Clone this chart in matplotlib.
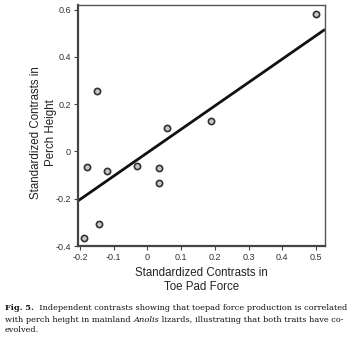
import matplotlib
matplotlib.use("Agg")
import matplotlib.pyplot as plt
import numpy as np

# Data
toe_pad_force = [-0.151, 0.057, 0.188, 0.500, -0.179, -0.119, -0.030, 0.033, 0.035, -0.143, -0.187]
perch_height = [0.255, 0.099, 0.128, 0.584, -0.065, -0.084, -0.060, -0.068, -0.133, -0.305, -0.366]
fit_slope = 0.99
fit_intercept = -0.005
x_ticks = [-0.2, -0.1, 0, 0.1, 0.2, 0.3, 0.4, 0.5]
x_ticklabels = ["-0.2", "-0.1", "0", "0.1", "0.2", "0.3", "0.4", "0.5"]
y_ticks = [-0.4, -0.2, 0, 0.2, 0.4, 0.6]
y_ticklabels = ["-0.4", "-0.2", "0", "0.2", "0.4", "0.6"]

W, H = 355, 339
fig = plt.figure(figsize=(W / 100, H / 100), dpi=100)
ax = fig.add_axes([78 / W, 1 - 246 / H, (325 - 78) / W, (246 - 5) / H])

xlim = (-0.206, 0.527)
ylim = (-0.4, 0.62)
ax.set_xlim(*xlim)
ax.set_ylim(*ylim)

xs = np.array(xlim)
ax.plot(xs, fit_slope * xs + fit_intercept, color="#111111", lw=2.0, solid_capstyle="butt", zorder=2)
ax.scatter(toe_pad_force, perch_height, s=20, facecolor="#c8c8c8", edgecolor="#333333",
           linewidths=1.2, zorder=3, clip_on=False)

ax.set_xticks(x_ticks)
ax.set_xticklabels(x_ticklabels)
ax.set_yticks(y_ticks)
ax.set_yticklabels(y_ticklabels)
for lab in ax.get_xticklabels() + ax.get_yticklabels():
    lab.set_fontfamily("Liberation Sans")
    lab.set_fontsize(6.5)
    lab.set_color("#333333")
ax.tick_params(direction="out", length=3, width=0.8, color="#444444", pad=2)

for side in ["left", "bottom"]:
    ax.spines[side].set_linewidth(1.6)
    ax.spines[side].set_color("#444444")
for side in ["top", "right"]:
    ax.spines[side].set_linewidth(1.0)
    ax.spines[side].set_color("#555555")

ax.set_xlabel("Standardized Contrasts in\nToe Pad Force", fontfamily="Liberation Sans",
              fontsize=8.3, color="#222222", labelpad=4, linespacing=1.2)
ax.set_ylabel("Standardized Contrasts in\nPerch Height", fontfamily="Liberation Sans",
              fontsize=8.3, color="#222222", labelpad=2, linespacing=1.25)
ax.yaxis.set_label_coords(-0.087, 0.47)

# Caption with mixed styles
fig.canvas.draw()
renderer = fig.canvas.get_renderer()
cap_font = "DejaVu Serif"
cap_size = 5.95
lines = [
    [("Fig. 5.", "bold", "normal"), ("  Independent contrasts showing that toepad force production is correlated", "normal", "normal")],
    [("with perch height in mainland ", "normal", "normal"), ("Anolis", "normal", "italic"),
     (" lizards, illustrating that both traits have co-", "normal", "normal")],
    [("evolved.", "normal", "normal")],
]
line_y = [310, 321.5, 332.5]
for runs, yp in zip(lines, line_y):
    xp = 5.0
    for txt, wt, st in runs:
        t = fig.text(xp / W, 1 - yp / H, txt, fontfamily=cap_font, fontsize=cap_size,
                     fontweight=wt, fontstyle=st, color="#111111", va="baseline", ha="left")
        bb = t.get_window_extent(renderer=renderer)
        xp += bb.width

fig.savefig("out.png", dpi=100)
